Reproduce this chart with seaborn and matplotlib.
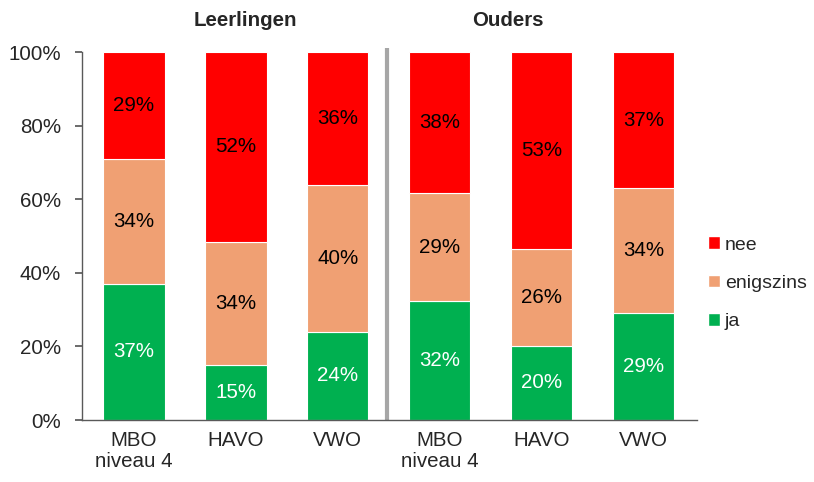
import matplotlib
matplotlib.use('Agg')
import matplotlib.pyplot as plt
from matplotlib.patches import Patch
import seaborn as sns
import pandas as pd
import numpy as np

# data
groups = ["Leerlingen", "Ouders"]
levels = ["MBO\nniveau 4", "HAVO", "VWO"]
ja = [37, 15, 24, 32, 20, 29]
enigszins = [34, 34, 40, 29, 26, 34]
nee = [29, 52, 36, 38, 53, 37]

colors = {"ja": "#00B050", "enigszins": "#F0A073", "nee": "#FF0000"}
text_colors = {"ja": "white", "enigszins": "black", "nee": "black"}

sns.set_theme(style="white")
plt.rcParams['font.family'] = ['Liberation Sans', 'DejaVu Sans']
FS = 14.8

keys = [f"{g}-{lv}" for g in groups for lv in levels]
raw = pd.DataFrame({"key": keys, "ja": ja, "enigszins": enigszins, "nee": nee})
totals = raw[["ja", "enigszins", "nee"]].sum(axis=1)
shares = raw[["ja", "enigszins", "nee"]].div(totals, axis=0)

fig = plt.figure(figsize=(8.14, 4.82), dpi=100)
ax = fig.add_axes([0.1007, 0.1286, 0.7553, 0.7634])

bottom = np.zeros(len(keys))
for cat in ["ja", "enigszins", "nee"]:
    sns.barplot(x=raw["key"], y=shares[cat], bottom=bottom, color=colors[cat],
                width=0.6, edgecolor="white", linewidth=0.8, saturation=1, ax=ax)
    for i, (v, lbl) in enumerate(zip(shares[cat], raw[cat])):
        ax.text(i, bottom[i] + v / 2, f"{lbl}%", ha="center", va="center",
                fontsize=FS, color=text_colors[cat])
    bottom = bottom + shares[cat].values

ax.set_xlim(-0.51, 5.52)
ax.set_ylim(0, 1)
ax.set_yticks(np.arange(0, 1.01, 0.2))
ax.set_yticklabels([f"{int(round(t * 100))}%" for t in np.arange(0, 1.01, 0.2)], fontsize=FS)
ax.set_xticks(range(len(keys)))
ax.set_xticklabels(levels * 2, fontsize=FS, linespacing=1.15)
ax.set_xlabel("")
ax.set_ylabel("")
ax.tick_params(axis="y", length=5, color="#595959", pad=10, direction="out", left=True)
ax.tick_params(axis="x", length=0, pad=8)
for side in ["top", "right"]:
    ax.spines[side].set_visible(False)
for side in ["left", "bottom"]:
    ax.spines[side].set_color("#595959")
    ax.spines[side].set_linewidth(1.0)

# separator between the two groups
ax.plot([2.48, 2.48], [0, 1.01], color="#A6A6A6", linewidth=3, clip_on=False,
        solid_capstyle="butt")

ax.text(1.09, 1.087, groups[0], ha="center", va="center", fontsize=FS,
        fontweight="bold", transform=ax.get_xaxis_transform())
ax.text(3.67, 1.087, groups[1], ha="center", va="center", fontsize=FS,
        fontweight="bold", transform=ax.get_xaxis_transform())

handles = [Patch(facecolor=colors[c], edgecolor="white") for c in ["nee", "enigszins", "ja"]]
fig.legend(handles, ["nee", "enigszins", "ja"], loc="center left",
           bbox_to_anchor=(0.870, 0.412), frameon=False, fontsize=14,
           borderpad=0, borderaxespad=0,
           handlelength=0.6, handleheight=0.6, handletextpad=0.25, labelspacing=1.1)

fig.savefig("out.png", dpi=100)
plt.close(fig)
